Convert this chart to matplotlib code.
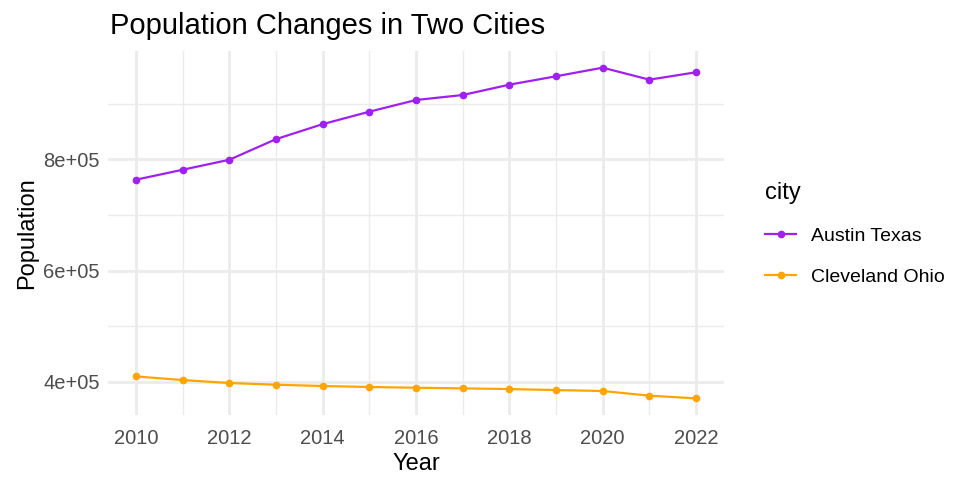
import matplotlib
matplotlib.use("Agg")
import matplotlib.pyplot as plt
from matplotlib.ticker import MultipleLocator, FuncFormatter

plt.rcParams['font.family'] = ['Liberation Sans', 'DejaVu Sans']

# Data
years = [2010, 2011, 2012, 2013, 2014, 2015, 2016, 2017, 2018, 2019, 2020, 2021, 2022]
austin = [763600, 781500, 799500, 836600, 863600, 886000, 907000, 916000,
          934600, 949700, 965200, 943600, 956900]
cleveland = [409500, 403000, 397700, 394600, 392300, 390500, 389200, 388000,
             386800, 385000, 383300, 374900, 370000]
cities = ["Austin Texas", "Cleveland Ohio"]
colors = ["#A020F0", "#FFA500"]

fig = plt.figure(figsize=(9.75, 4.87), dpi=100)
ax = fig.add_axes([0.1108, 0.148, 0.6318, 0.747])

for vals, name, col in zip([austin, cleveland], cities, colors):
    ax.plot(years, vals, color=col, linewidth=1.6, marker='o', markersize=4.5,
            label=name, zorder=3)

# ggplot-like expansion
lo = min(min(austin), min(cleveland))
hi = max(max(austin), max(cleveland))
pad = (hi - lo) * 0.05
ax.set_ylim(lo - pad, hi + pad)
ax.set_xlim(years[0] - 0.6, years[-1] + 0.6)

ax.xaxis.set_major_locator(MultipleLocator(2))
ax.xaxis.set_minor_locator(MultipleLocator(1))
ax.yaxis.set_major_locator(MultipleLocator(200000))
ax.yaxis.set_minor_locator(MultipleLocator(100000))
ax.yaxis.set_major_formatter(FuncFormatter(lambda v, p: f"{int(v/100000)}e+05"))

ax.grid(True, which='major', color='#EBEBEB', linewidth=2.0, zorder=0)
ax.grid(True, which='minor', color='#EBEBEB', linewidth=1.0, zorder=0)
ax.set_axisbelow(True)
for s in ax.spines.values():
    s.set_visible(False)
ax.tick_params(which='both', length=0, labelsize=14.5, labelcolor='#4D4D4D')
ax.tick_params(axis='x', pad=10)
ax.tick_params(axis='y', pad=6)

ax.set_xlabel("Year", fontsize=17, labelpad=4)
ax.set_ylabel("Population", fontsize=17, labelpad=4)
ax.set_title("Population Changes in Two Cities", fontsize=21, loc='left', pad=12, x=0.003)

leg = fig.legend(loc='upper left', bbox_to_anchor=(0.767, 0.662), frameon=False,
                 title="city", fontsize=14, title_fontsize=17, handlelength=1.6,
                 labelspacing=1.2, handletextpad=0.75)
leg._legend_box.align = "left"

fig.savefig("out.png", dpi=100)
